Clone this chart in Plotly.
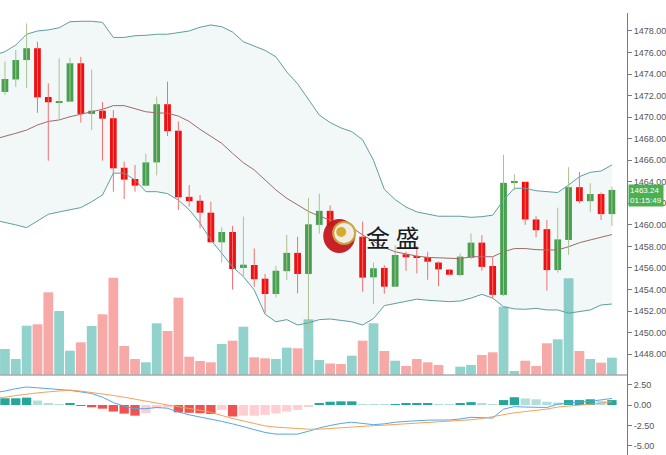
import plotly.graph_objects as go

# ---------------- data ----------------
opens = [1472.34, 1473.5, 1475.3, 1476.4, 1471.87, 1471.35, 1471.44, 1475.0, 1470.3, 1470.6,
         1469.9, 1465.3, 1464.26, 1463.64, 1465.8, 1471.2, 1468.74, 1462.6, 1462.24, 1461.13,
         1458.38, 1459.34, 1456.0, 1456.27, 1455.0, 1453.58, 1455.7, 1457.4, 1455.44, 1460.0,
         1461.3, 1459.9, 1458.7, 1458.9, 1455.13, 1456.0, 1454.26, 1457.27, 1457.05, 1457.0,
         1456.5, 1455.84, 1455.34, 1456.95, 1458.35, 1456.18, 1453.5, 1463.9, 1464.0, 1460.5,
         1459.6, 1455.8, 1458.6, 1463.5, 1462.2, 1462.86, 1461.0]
highs = [1475.15, 1476.24, 1478.7, 1477.0, 1473.14, 1475.46, 1475.5, 1475.6, 1474.4, 1471.4,
         1470.66, 1465.86, 1465.56, 1466.6, 1471.9, 1473.3, 1469.6, 1463.7, 1462.77, 1462.15,
         1459.77, 1459.9, 1460.76, 1457.8, 1455.44, 1456.2, 1459.06, 1458.9, 1462.5, 1462.9,
         1461.8, 1460.3, 1459.8, 1460.3, 1456.5, 1456.27, 1458.13, 1457.5, 1458.04, 1457.5,
         1456.6, 1455.9, 1457.35, 1459.2, 1459.06, 1457.0, 1466.5, 1464.7, 1464.0, 1460.8,
         1460.45, 1461.6, 1465.35, 1464.9, 1463.86, 1463.0, 1463.55]
lows = [1472.06, 1472.8, 1472.7, 1470.4, 1465.96, 1469.7, 1471.44, 1469.5, 1468.8, 1465.96,
        1463.08, 1462.4, 1463.08, 1463.64, 1464.6, 1468.25, 1461.38, 1461.7, 1459.68, 1458.38,
        1456.5, 1454.0, 1455.25, 1454.26, 1451.8, 1453.27, 1454.88, 1453.65, 1450.2, 1459.2,
        1459.5, 1458.4, 1458.2, 1453.8, 1452.65, 1453.6, 1454.26, 1455.74, 1455.5, 1454.9,
        1454.3, 1455.3, 1455.2, 1456.8, 1455.74, 1453.2, 1453.4, 1463.2, 1460.0, 1458.85,
        1453.9, 1455.56, 1457.2, 1462.0, 1461.2, 1460.45, 1459.9]
closes = [1473.54, 1475.3, 1476.4, 1471.84, 1471.38, 1471.45, 1475.0, 1470.3, 1470.6, 1469.86,
          1465.25, 1464.2, 1463.64, 1465.8, 1471.2, 1468.7, 1462.56, 1462.2, 1461.13, 1458.38,
          1459.34, 1455.9, 1456.3, 1454.95, 1453.58, 1455.74, 1457.4, 1455.44, 1460.05, 1461.3,
          1459.9, 1458.7, 1459.0, 1455.1, 1455.97, 1454.26, 1457.2, 1456.99, 1456.95, 1456.58,
          1455.87, 1455.37, 1457.05, 1458.35, 1456.1, 1453.5, 1463.9, 1464.0, 1460.5, 1459.5,
          1455.8, 1458.65, 1463.5, 1462.2, 1462.86, 1461.0, 1463.24]
volumes = [260, 160, 493, 507, 827, 640, 243, 327, 490, 607,
           973, 290, 160, 127, 517, 440, 773, 183, 140, 127,
           310, 343, 483, 177, 167, 160, 273, 267, 557, 150,
           115, 110, 193, 343, 517, 240, 143, 90, 160, 127,
           100, 0, 83, 100, 200, 227, 683, 40, 143, 90,
           317, 357, 967, 240, 160, 123, 173]

# Bollinger bands (first value is the bar just left of the view)
bb_upper = [1475.75,
            1476.08, 1476.7, 1477.7, 1478.0, 1478.1, 1478.3, 1478.86, 1478.9, 1478.9, 1478.8,
            1477.4, 1477.4, 1477.56, 1477.6, 1477.7, 1477.7, 1477.85, 1478.0, 1478.35, 1478.56,
            1478.4, 1477.9, 1477.0, 1476.6, 1476.2, 1475.6, 1474.2, 1473.1, 1471.6, 1470.2,
            1469.5, 1469.0, 1468.65, 1467.9, 1466.0, 1463.3, 1462.35, 1461.65, 1461.2, 1461.0,
            1460.8, 1460.8, 1460.8, 1460.7, 1460.76, 1460.9, 1462.3, 1463.4, 1463.4, 1463.17,
            1463.1, 1463.0, 1463.7, 1464.47, 1464.88, 1465.0, 1465.56]
bb_mid = [1467.95,
          1468.2, 1468.5, 1468.8, 1469.27, 1469.6, 1469.74, 1470.04, 1470.3, 1470.5, 1470.73,
          1471.07, 1471.07, 1470.8, 1470.5, 1470.4, 1470.36, 1470.1, 1469.6, 1468.87, 1468.2,
          1467.57, 1466.64, 1465.77, 1465.1, 1464.17, 1463.24, 1462.47, 1461.84, 1461.25, 1460.8,
          1460.45, 1460.1, 1459.77, 1459.06, 1458.44, 1457.9, 1457.5, 1457.27, 1457.1, 1456.98,
          1456.92, 1456.86, 1456.86, 1457.04, 1457.04, 1457.04, 1457.5, 1457.8, 1457.8, 1457.7,
          1457.67, 1457.67, 1457.97, 1458.34, 1458.6, 1458.84, 1459.1]
bb_lower = [1460.45,
            1460.24, 1460.0, 1459.74, 1460.36, 1460.98, 1461.2, 1461.38, 1461.6, 1462.15, 1462.77,
            1464.8, 1464.8, 1464.17, 1463.08, 1463.08, 1462.9, 1462.3, 1461.4, 1460.15, 1458.6,
            1457.36, 1456.1, 1455.2, 1453.95, 1451.7, 1451.0, 1451.2, 1450.7, 1450.9, 1451.2,
            1451.26, 1451.1, 1451.0, 1450.7, 1451.3, 1452.5, 1452.7, 1452.93, 1453.1, 1453.0,
            1452.93, 1452.87, 1452.93, 1453.2, 1453.55, 1453.2, 1452.4, 1452.2, 1452.16, 1452.25,
            1452.1, 1452.1, 1451.8, 1451.94, 1452.1, 1452.56, 1452.65]

# MACD (first value is the bar just left of the view)
macd_line = [1.5,
             1.7, 2.0, 2.2, 2.1, 2.0, 1.9, 1.78, 1.6, 1.4, 0.95,
             0.3, -0.15, -0.45, -0.45, -0.3, -0.4, -0.85, -1.2, -1.45, -1.75,
             -2.0, -2.3, -2.65, -3.0, -3.35, -3.55, -3.58, -3.55, -3.2, -2.8,
             -2.5, -2.25, -2.1, -2.25, -2.4, -2.3, -2.1, -2.0, -1.9, -1.85,
             -1.83, -1.83, -1.7, -1.5, -1.55, -1.6, -0.5, -0.2, -0.25, -0.3,
             -0.3, 0.1, 0.25, 0.35, 0.45, 0.6, 0.8]
signal_line = [0.9,
               0.95, 1.15, 1.35, 1.48, 1.6, 1.75, 1.82, 1.7, 1.55, 1.38,
               1.16, 0.95, 0.7, 0.45, 0.25, 0.0, -0.2, -0.4, -0.65, -0.9,
               -1.3, -1.65, -1.95, -2.25, -2.55, -2.7, -2.8, -2.9, -2.95, -2.95,
               -2.85, -2.75, -2.65, -2.58, -2.52, -2.46, -2.38, -2.3, -2.22, -2.15,
               -2.05, -2.0, -1.9, -1.8, -1.65, -1.4, -1.15, -0.95, -0.8, -0.65,
               -0.5, -0.25, -0.15, -0.05, 0.08, 0.22, 0.4]
macd_hist = [0.82, 0.82, 0.9, 0.55, 0.25, 0.1, 0.2, -0.05, -0.28, -0.45,
             -0.8, -1.05, -1.3, -1.0, -0.4, -0.3, -0.9, -0.95, -1.0, -1.1,
             -0.6, -1.4, -1.3, -1.3, -1.2, -1.0, -0.8, -0.6, -0.2, 0.2,
             0.4, 0.45, 0.45, 0.12, 0.05, 0.04, 0.12, 0.18, 0.22, 0.22,
             0.12, 0.1, 0.2, 0.35, 0.2, 0.1, 0.6, 0.95, 0.8, 0.7,
             0.4, 0.3, 0.6, 0.6, 0.7, 0.5, 0.6]

price_ticks = list(range(1448, 1480, 2))
macd_ticks = [2.5, 0.0, -2.5, -5.0]
last_price = 1463.24
countdown = "01:15:49"

# ---------------- styling ----------------
UP = "#44a148"
DOWN = "#fb0606"
UP_WICK = "#a9c291"
DOWN_WICK = "#f27070"
VOL_UP = "rgba(38,166,154,0.5)"
VOL_DOWN = "rgba(239,83,80,0.5)"
BAND = "#5f9ea0"
MID = "#9e6b6b"

n = len(opens)
idx = list(range(n))
bb_x = list(range(-1, n))
is_up = [c >= o for o, c in zip(opens, closes)]

# wick segments
wx_up, wy_up, wx_dn, wy_dn = [], [], [], []
for i in idx:
    if is_up[i]:
        wx_up += [i, i, None]; wy_up += [lows[i], highs[i], None]
    else:
        wx_dn += [i, i, None]; wy_dn += [lows[i], highs[i], None]

body_base = [min(o, c) for o, c in zip(opens, closes)]
body_len = [max(abs(c - o), 0.15) for o, c in zip(opens, closes)]
body_col = [UP if u else DOWN for u in is_up]
vol_col = [VOL_UP if u else VOL_DOWN for u in is_up]

hist_col = []
prev = None
for h in macd_hist:
    if h >= 0:
        hist_col.append("#26a69a" if (prev is None or h >= prev) else "#b2dfdb")
    else:
        hist_col.append("#ef5350" if (prev is None or h < prev) else "#ffcdd2")
    prev = h

fig = go.Figure()

# volume (base axis y)
fig.add_trace(go.Bar(x=idx, y=volumes, marker=dict(color=vol_col, line=dict(width=0)),
                     width=0.9, offset=-0.45, xaxis="x", yaxis="y", hoverinfo="skip"))
# bollinger bands on price axis y2
fig.add_trace(go.Scatter(x=bb_x, y=bb_upper, mode="lines", line=dict(color=BAND, width=1),
                         xaxis="x", yaxis="y2", hoverinfo="skip"))
fig.add_trace(go.Scatter(x=bb_x, y=bb_lower, mode="lines", line=dict(color=BAND, width=1),
                         fill="tonexty", fillcolor="rgba(95,158,160,0.08)",
                         xaxis="x", yaxis="y2", hoverinfo="skip"))
fig.add_trace(go.Scatter(x=bb_x, y=bb_mid, mode="lines", line=dict(color=MID, width=1),
                         xaxis="x", yaxis="y2", hoverinfo="skip"))
# wicks
fig.add_trace(go.Scatter(x=wx_up, y=wy_up, mode="lines", line=dict(color=UP_WICK, width=1),
                         xaxis="x", yaxis="y2", hoverinfo="skip"))
fig.add_trace(go.Scatter(x=wx_dn, y=wy_dn, mode="lines", line=dict(color=DOWN_WICK, width=1),
                         xaxis="x", yaxis="y2", hoverinfo="skip"))
# bodies
fig.add_trace(go.Bar(x=idx, y=body_len, base=body_base,
                     marker=dict(color=body_col, line=dict(width=0)),
                     width=0.62, offset=-0.31, xaxis="x", yaxis="y2", hoverinfo="skip"))
# MACD pane
fig.add_trace(go.Bar(x=idx, y=macd_hist, marker=dict(color=hist_col, line=dict(width=0)),
                     width=0.86, offset=-0.43, xaxis="x2", yaxis="y3", hoverinfo="skip"))
fig.add_trace(go.Scatter(x=bb_x, y=macd_line, mode="lines", line=dict(color="#55a7e6", width=1),
                         xaxis="x2", yaxis="y3", hoverinfo="skip"))
fig.add_trace(go.Scatter(x=bb_x, y=signal_line, mode="lines", line=dict(color="#f6a25a", width=1),
                         xaxis="x2", yaxis="y3", hoverinfo="skip"))

W, H = 666, 455
ML, MR, MT, MB = 0, 32, 13, 0
ph = H - MT - MB
split = (H - 375) / ph  # pane separator at y=375px

xr = [-0.456, 57.39]
tickfont = dict(family="Liberation Sans, Arial, sans-serif", size=9, color="#555555")
axis_common = dict(showline=True, linecolor="#7a7a7a", linewidth=1, ticks="outside",
                   ticklen=4, tickcolor="#7a7a7a", tickfont=tickfont, showgrid=False,
                   zeroline=False, fixedrange=True)

fig.update_layout(
    width=W, height=H,
    margin=dict(l=ML, r=MR, t=MT, b=MB),
    paper_bgcolor="white", plot_bgcolor="white",
    showlegend=False,
    barmode="overlay",
    xaxis=dict(domain=[0, 1], range=xr, visible=False, anchor="y"),
    xaxis2=dict(domain=[0, 1], range=xr, visible=False, anchor="y3"),
    yaxis=dict(domain=[split, 1], range=[0, 3620], visible=False, anchor="x"),
    yaxis2=dict(overlaying="y", side="right", anchor="x", range=[1446.06, 1479.67],
                tickvals=price_ticks, ticktext=[f"{v:.2f}" for v in price_ticks], **axis_common),
    yaxis3=dict(domain=[0, split], anchor="x2", side="right", range=[-6.1, 3.66],
                tickvals=macd_ticks, ticktext=[f"{v:.2f}" for v in macd_ticks], **axis_common),
)

# separator under volume
fig.add_shape(type="line", xref="paper", yref="paper", x0=0, x1=1, y0=split, y1=split,
              line=dict(color="#aaaaaa", width=1.5))

# current price tag
fig.add_annotation(xref="paper", x=1, xanchor="left", xshift=1,
                   yref="y2", y=last_price, yanchor="top", yshift=6,
                   text=f"{last_price:.2f}<br>{countdown}", showarrow=False, align="left",
                   font=dict(family="Liberation Sans, Arial, sans-serif", size=8, color="white"),
                   bgcolor="#4caf50", borderpad=1)

# watermark logo
def px_x(px):
    return px / (W - ML - MR)

def px_y(py):
    return (H - MB - py) / ph

logo_cx, logo_cy = 343, 236
fig.add_shape(type="circle", xref="paper", yref="paper", xsizemode="pixel", ysizemode="pixel",
              xanchor=px_x(logo_cx), yanchor=px_y(logo_cy), x0=-16, x1=16, y0=-17, y1=17,
              fillcolor="#c3161c", line=dict(width=0), opacity=0.95)
fig.add_shape(type="circle", xref="paper", yref="paper", xsizemode="pixel", ysizemode="pixel",
              xanchor=px_x(logo_cx + 5), yanchor=px_y(logo_cy - 3), x0=-11, x1=11, y0=-11, y1=11,
              fillcolor="#f4f8f0", line=dict(color="#c9a93c", width=2), opacity=0.95)
fig.add_shape(type="circle", xref="paper", yref="paper", xsizemode="pixel", ysizemode="pixel",
              xanchor=px_x(logo_cx + 2), yanchor=px_y(logo_cy - 4), x0=-5, x1=5, y0=-5, y1=5,
              fillcolor="#d6ab2a", line=dict(width=0))
fig.add_annotation(xref="paper", yref="paper", x=px_x(397), y=px_y(236),
                   text="金 盛", showarrow=False,
                   font=dict(family="Noto Sans CJK SC", size=24, color="#1b1b1b"))

fig.write_html("out.html", config={"displayModeBar": False},
               post_script="document.body.style.margin='0';document.body.style.overflow='hidden';")
